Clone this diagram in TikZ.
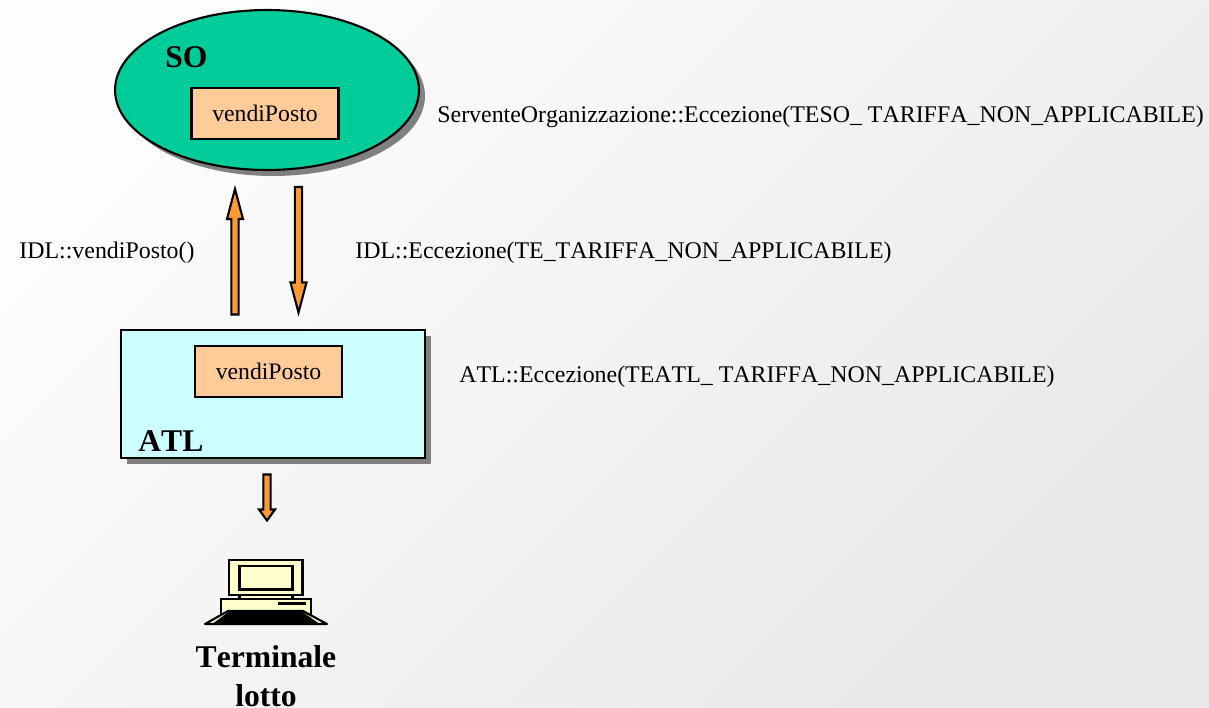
\documentclass[tikz,border=0pt]{standalone}
\usepackage{fontspec}
\setmainfont[Kerning=Off]{Liberation Serif}
\usetikzlibrary{calc,shapes.geometric,shadows}
\definecolor{sogreen}{HTML}{00CC99}
\definecolor{methodfill}{HTML}{FFCC99}
\definecolor{atlfill}{HTML}{CCFFFF}
\definecolor{arrowfill}{HTML}{FF9933}
\definecolor{termfill}{HTML}{FFFFCC}
\definecolor{backlight}{HTML}{FDFDFD}
\definecolor{backdark}{HTML}{E8E8E8}
\tikzset{
  boxshadow/.style={drop shadow={shadow xshift=.12cm, shadow yshift=-.12cm, fill=gray, opacity=1}},
  method/.style={draw, line width=1.2pt, fill=methodfill, minimum width=2.94cm, minimum height=1.02cm, inner sep=0pt, font=\fontsize{13.5}{16}\selectfont},
  label/.style={anchor=base west, inner sep=0pt, font=\fontsize{13.6}{16}\selectfont},
  title/.style={anchor=base west, inner sep=0pt, font=\fontsize{18}{21}\selectfont\bfseries},
  arrowline/.style={draw, line width=1.2pt, fill=arrowfill, line join=miter},
  termline/.style={draw, line width=1.2pt, fill=termfill}
}
\newcommand{\blockarrow}[4]{
\draw[arrowline] ($(#1)+(-#4,0)$) -- ($(#2)+(-#4,#3)$) -- ($(#2)+(-8,#3)$) -- (#2) -- ($(#2)+(8,#3)$) -- ($(#2)+(#4,#3)$) -- ($(#1)+(#4,0)$) -- cycle;
}
\begin{document}
\begin{tikzpicture}[x=.02cm, y=-.02cm]
\useasboundingbox (0,0) rectangle (1209,707);
\shade[top color=backlight, bottom color=backdark, shading angle=45] (0,0) rectangle (1209,707);

\node[ellipse, draw, line width=1.2pt, fill=sogreen, minimum width=6.08cm, minimum height=3.2cm, inner sep=0pt, boxshadow] (so) at (267,90) {};
\node[method] (sometodo) at (265,113.5) {vendiPosto};
\node[title] (sotitle) at (165,67) {SO};

\node[draw, line width=1.2pt, fill=atlfill, minimum width=6.08cm, minimum height=2.56cm, inner sep=0pt, boxshadow] (atl) at (273,394) {};
\node[method] (atlmetodo) at (268.5,371.5) {vendiPosto};
\node[title] (atltitle) at (138,451) {ATL};

\coordinate (upfoot) at (235,314.5);
\coordinate (uptip) at (235,189);
\coordinate (downfoot) at (298.5,187);
\coordinate (downtip) at (298.5,312.5);
\coordinate (termfoot) at (267,474.5);
\coordinate (termtip) at (267,520.5);
\blockarrow{upfoot}{uptip}{30}{3.6}
\blockarrow{downfoot}{downtip}{-30}{3.6}
\blockarrow{termfoot}{termtip}{-11}{3.6}

\node[label] (soerr) at (437,122) {ServenteOrganizzazione::Eccezione(TESO\_ TARIFFA\_NON\_APPLICABILE)};
\node[label] (idlcall) at (19,258) {IDL::vendiPosto()};
\node[label] (idlerr) at (355,258) {IDL::Eccezione(TE\_TARIFFA\_NON\_APPLICABILE)};
\node[label] (atlerr) at (459,382) {ATL::Eccezione(TEATL\_ TARIFFA\_NON\_APPLICABILE)};

\draw[termline] (239.5,594) rectangle (292.5,600);
\draw[termline] (229,560) rectangle (302.5,595);
\draw[termline] (239.5,566) rectangle (292.5,589.5);
\draw[termline] (221,599) rectangle (311,615);
\fill (278,602) rectangle (306,605);
\draw[termline, line join=round] (228,611) -- (303,611) -- (327,624) -- (205,624) -- cycle;
\fill[line join=round] (229,611.5) -- (302,611.5) -- (319,623.5) -- (213,623.5) -- cycle;

\node[anchor=base, align=center, inner sep=0pt, font=\fontsize{18}{22}\selectfont\bfseries] (terminale) at (266,706) {Terminale\\lotto};
\end{tikzpicture}
\end{document}
